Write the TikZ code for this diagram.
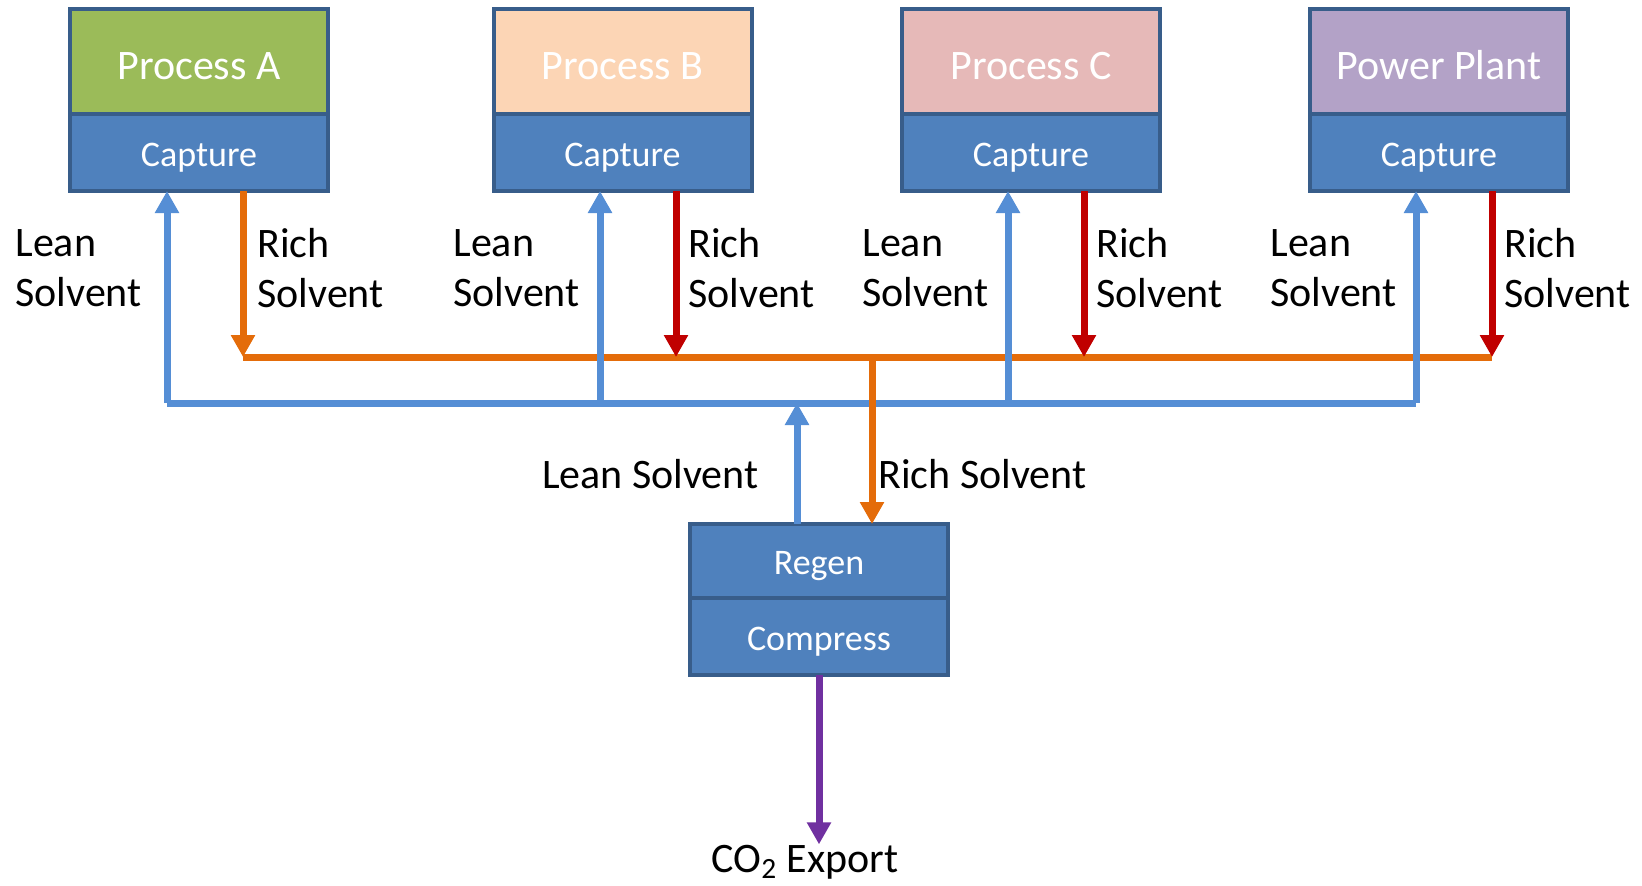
\documentclass[tikz,border=0pt]{standalone}
\usepackage{fontspec}
\setmainfont{Carlito}
\usetikzlibrary{arrows.meta}
\usetikzlibrary{positioning}
\definecolor{edgeblue}{HTML}{385D8A}
\definecolor{capblue}{HTML}{4F81BD}
\definecolor{procA}{HTML}{9BBB59}
\definecolor{procB}{HTML}{FCD5B5}
\definecolor{procC}{HTML}{E6B9B8}
\definecolor{plant}{HTML}{B3A2C7}
\definecolor{leanblue}{HTML}{558ED5}
\definecolor{richorange}{HTML}{E46C0A}
\definecolor{richred}{HTML}{C00000}
\definecolor{exportpurple}{HTML}{7030A0}

\tikzset{
  unit/.style={draw=edgeblue, line width=2pt, outer sep=0pt, inner sep=0pt,
    minimum width=129pt, text=white, text depth=0pt},
  proc/.style={unit, minimum height=52.5pt, text height=17.5pt, font=\fontsize{21}{25}\selectfont},
  stage/.style={unit, fill=capblue, minimum height=38.5pt, text height=13.6pt, font=\fontsize{18}{22}\selectfont},
  pipe/.style={line width=3.5pt},
  flow/.style={pipe, -{Triangle[width=11.5pt,length=11pt]}},
  tag/.style={align=left, inner sep=0pt, font=\fontsize{21}{25}\selectfont}
}

\begin{document}
\begin{tikzpicture}[x=0.5pt,y=-0.5pt]
  \useasboundingbox (0,0) rectangle (1642,885);

  \node[proc, fill=procA] (pa) at (199,61.5) {Process A};
  \node[stage, below=0pt of pa] (ca) {Capture};
  \node[proc, fill=procB] (pb) at (622.5,61.5) {Process B};
  \node[stage, below=0pt of pb] (cb) {Capture};
  \node[proc, fill=procC] (pc) at (1031,61.5) {Process C};
  \node[stage, below=0pt of pc] (cc) {Capture};
  \node[proc, fill=plant] (pp) at (1439,61.5) {Power Plant};
  \node[stage, below=0pt of pp] (cp) {Capture};

  \node[stage, minimum height=37pt] (rg) at (819,561) {Regen};
  \node[stage, below=0pt of rg] (cm) {Compress};
  \node[tag, anchor=base] (co2) at (805,872) {CO\textsubscript{2} Export};

  % headers
  \coordinate (la) at (167,403);
  \coordinate (lb) at (600,403);
  \coordinate (lc) at (1008,403);
  \coordinate (lp) at (1416,403);
  \coordinate (lr) at (797,403);
  \coordinate (ra) at (243,357);
  \coordinate (rb) at (676,357);
  \coordinate (rc) at (1084,357);
  \coordinate (rp) at (1492,357);
  \coordinate (rr) at (872,357);

  \draw[pipe, leanblue] (la) -- (lp);
  \draw[pipe, richorange] (ra) -- (rp);

  % lean solvent back to the units
  \draw[flow, leanblue] (la) -- (la |- ca.south);
  \draw[flow, leanblue] (lb) -- (lb |- cb.south);
  \draw[flow, leanblue] (lc) -- (lc |- cc.south);
  \draw[flow, leanblue] (lp) -- (lp |- cp.south);
  \draw[flow, leanblue] (lr |- rg.north) -- (lr);

  % rich solvent to regen
  \draw[flow, richorange] (ca.south -| ra) -- (ra);
  \draw[flow, richred] (cb.south -| rb) -- (rb);
  \draw[flow, richred] (cc.south -| rc) -- (rc);
  \draw[flow, richred] (cp.south -| rp) -- (rp);
  \draw[flow, richorange] (rr) -- (rr |- rg.north);

  \draw[flow, exportpurple] (cm.south) -- (co2.north -| cm.south);

  \node[tag, anchor=west] (tla) at (15,268) {Lean\\Solvent};
  \node[tag, anchor=west] (tra) at (257,268) {Rich\\Solvent};
  \node[tag, anchor=west] (tlb) at (453,268) {Lean\\Solvent};
  \node[tag, anchor=west] (trb) at (688,268) {Rich\\Solvent};
  \node[tag, anchor=west] (tlc) at (862,268) {Lean\\Solvent};
  \node[tag, anchor=west] (trc) at (1096,268) {Rich\\Solvent};
  \node[tag, anchor=west] (tlp) at (1270,268) {Lean\\Solvent};
  \node[tag, anchor=west] (trp) at (1504,268) {Rich\\Solvent};
  \node[tag, anchor=east] (tlr) at (759,474) {Lean Solvent};
  \node[tag, anchor=west] (trr) at (878,474) {Rich Solvent};
\end{tikzpicture}
\end{document}
